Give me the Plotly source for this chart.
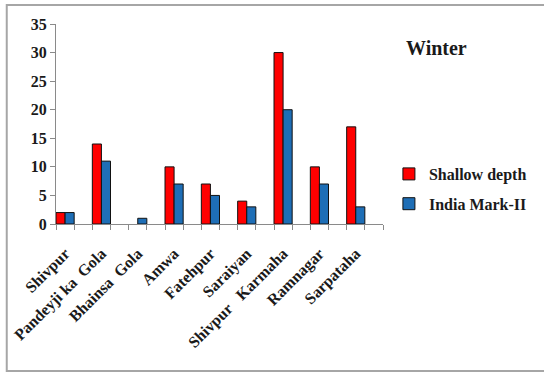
import numpy as np
import plotly.graph_objects as go

# Sampling sites and observed values for the winter season
sites = ["Shivpur", "Pandeyji ka\u00a0\u00a0Gola", "Bhainsa\u00a0\u00a0Gola", "Amwa", "Fatehpur",
         "Saraiyan", "Shivpur\u00a0\u00a0\u00a0Karmaha", "Ramnagar", "Sarpataha"]
shallow_depth = [2, 14, 0, 10, 7, 4, 30, 10, 17]
india_mark_ii = [2, 11, 1, 7, 5, 3, 20, 7, 3]
y_ticks = [0, 5, 10, 15, 20, 25, 30, 35]

# Each site occupies two slots on the axis; the bar pair fills the first slot
pos = np.arange(len(sites)) * 2 + 0.5

W, H = 544, 374
L, R, T, B = 56, 156, 24, 150

serif = "Liberation Serif, Times New Roman, serif"


def outline_widths(values):
    # no outline for empty bars
    return [0 if v == 0 else 1 for v in values]


fig = go.Figure()
fig.add_trace(go.Bar(x=pos, y=shallow_depth, name="Shallow depth", legendgroup="a",
                     marker=dict(color="#FF0000",
                                 line=dict(color="#111111", width=outline_widths(shallow_depth)))))
fig.add_trace(go.Bar(x=pos, y=india_mark_ii, name="India Mark-II", legendgroup="b",
                     marker=dict(color="#1E6EB6",
                                 line=dict(color="#111111", width=outline_widths(india_mark_ii)))))


def px_to_paper_x(px):
    return (px - L) / (W - L - R)


def px_to_paper_y(py):
    return (H - B - py) / (H - T - B)


fig.update_layout(
    width=W, height=H,
    margin=dict(l=L, r=R, t=T, b=B, pad=0),
    paper_bgcolor="white", plot_bgcolor="white",
    barmode="group", bargap=0.5, bargroupgap=0,
    font=dict(family=serif, color="#1a1a1a"),
    xaxis=dict(
        range=[0, 2 * len(sites)],
        tickmode="array", tickvals=pos, ticktext=sites,
        tickangle=-45, ticks="outside", ticklen=0, tickcolor="rgba(0,0,0,0)",
        ticklabelstandoff=13,
        tickfont=dict(family=serif, size=16, color="#1a1a1a", weight="bold"),
        showgrid=False, zeroline=False,
        showline=True, linecolor="#8a8a8a", linewidth=1,
        minor=dict(tick0=0, dtick=1, ticks="outside", ticklen=5,
                   tickcolor="#8a8a8a", tickwidth=1, showgrid=False),
        fixedrange=True,
    ),
    yaxis=dict(
        range=[0, 35], tickmode="array", tickvals=y_ticks,
        ticks="outside", ticklen=5, tickcolor="#8a8a8a",
        tickfont=dict(family=serif, size=16, color="#1a1a1a", weight="bold"),
        showgrid=False, zeroline=False,
        showline=True, linecolor="#8a8a8a", linewidth=1,
        fixedrange=True,
    ),
    legend=dict(
        x=px_to_paper_x(394), y=px_to_paper_y(157), xanchor="left", yanchor="top",
        font=dict(family=serif, size=16, color="#1a1a1a", weight="bold"),
        bgcolor="rgba(0,0,0,0)", itemwidth=30,
        traceorder="grouped", tracegroupgap=6,
    ),
    annotations=[dict(
        text="<b>Winter</b>", x=px_to_paper_x(409), y=px_to_paper_y(48),
        xref="paper", yref="paper", xanchor="left", yanchor="middle",
        showarrow=False, font=dict(family=serif, size=20, color="#1a1a1a"),
    )],
    shapes=[dict(
        type="rect", xref="paper", yref="paper",
        x0=px_to_paper_x(6), x1=px_to_paper_x(560),
        y0=px_to_paper_y(371), y1=px_to_paper_y(5),
        line=dict(color="#a6a6a6", width=2), fillcolor="rgba(0,0,0,0)", layer="below",
    )],
)

fig.write_html("out.html")
